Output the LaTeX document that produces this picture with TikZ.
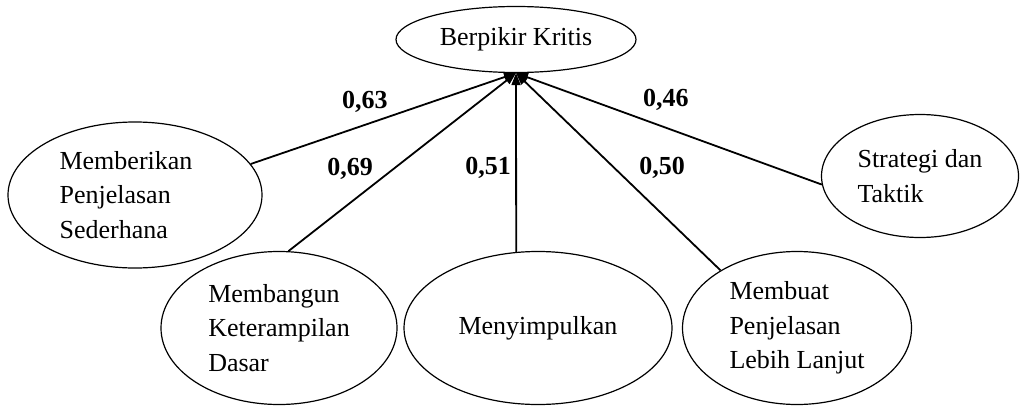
\documentclass[tikz,border=0pt]{standalone}
\usepackage{fontspec}
\setmainfont{Liberation Serif}
\usetikzlibrary{shapes.geometric,positioning,arrows.meta}
\tikzset{
indicator/.style={ellipse, draw, line width=0.6pt, inner sep=0pt, align=left,
  font=\fontsize{13}{17.25}\selectfont}, % the ellipses
loading/.style={font=\fontsize{13}{17.25}\selectfont\bfseries}, % the numbers on the lines
}

\begin{document}
\begin{tikzpicture}[x=1pt,y=1pt,on grid,>={Triangle[length=6pt,width=4.5pt]}]
   \useasboundingbox (0,0) rectangle (510.5,204);
   \node[indicator,minimum width=120pt,minimum height=33pt] (bk) at (258,184.25) {Berpikir Kritis};
   \node[indicator,minimum width=127pt,minimum height=73pt] (i_1) at (67.5,106.5) {Memberikan\hspace*{9pt}\\Penjelasan\\Sederhana};
   \node[indicator,minimum width=118pt,minimum height=76.5pt] (i_2) at (139.5,40) {Membangun\\Keterampilan\\Dasar};
   \node[indicator,minimum width=134pt,minimum height=76.5pt] (i_3) [right=129.5pt of i_2] {Menyimpulkan};
   \node[indicator,minimum width=114.5pt,minimum height=76.5pt] (i_4) [right=129.5pt of i_3] {Membuat\\Penjelasan\\Lebih Lanjut};
   \node[indicator,minimum width=98.5pt,minimum height=61.5pt] (i_5) at (460,116) {Strategi dan\\Taktik};
   \coordinate (hub) at (bk.south);
    \path[->,line width=0.9pt]
    (i_1.15)  edge node[loading,pos=.43,yshift=11.5pt] {0,63} (hub)
    (i_2.83)  edge node[loading,pos=.46,xshift=-21.5pt] {0,69} (hub)
    (i_3.106) edge node[loading,pos=.47,xshift=-14pt] {0,51} (hub)
    (i_4.143) edge node[loading,pos=.52,xshift=24pt] {0,50} (hub)
    (i_5.185) edge node[loading,pos=.51,yshift=13.8pt] {0,46} (hub);
\end{tikzpicture}
\end{document}
